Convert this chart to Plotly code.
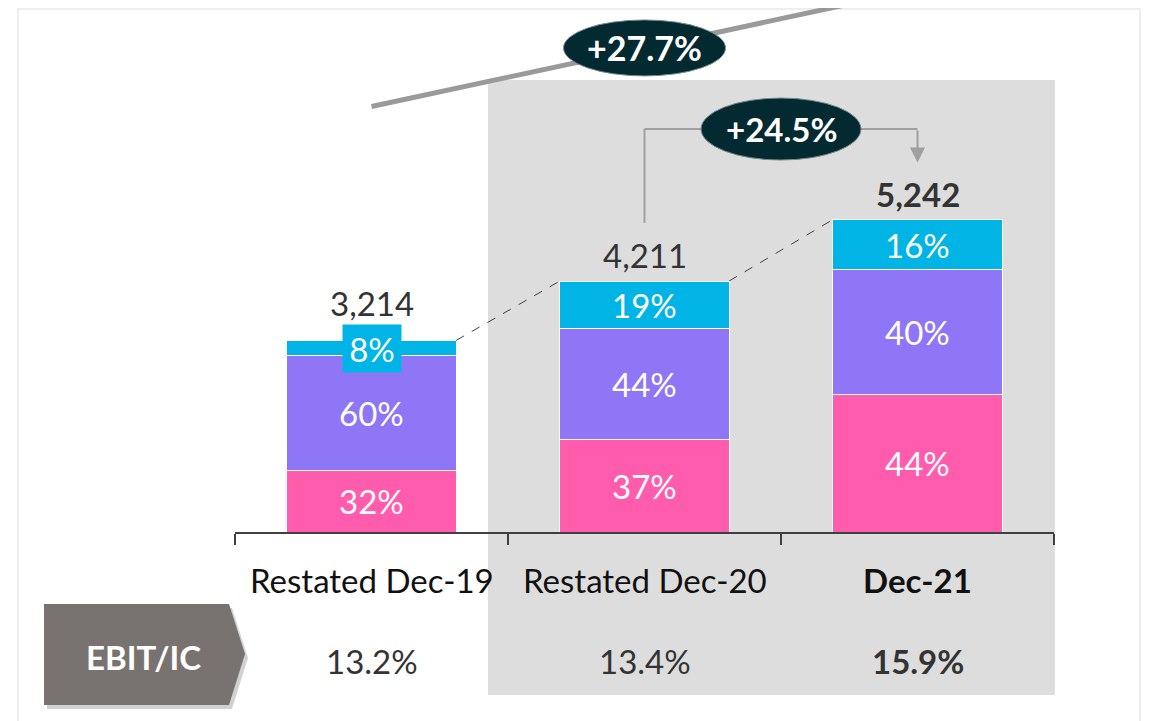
import plotly.graph_objects as go

# ---------------- data ----------------
categories = ["Restated Dec-19", "Restated Dec-20", "Dec-21"]
totals = [3214, 4211, 5242]
pct_pink = [32, 37, 44]
pct_purple = [60, 44, 40]
pct_cyan = [8, 19, 16]
ebit_ic = ["13.2%", "13.4%", "15.9%"]
cagr_label = "+27.7%"
yoy_label = "+24.5%"
row_label = "EBIT/IC"

# ---------------- style / geometry ----------------
OFF = 8                      # page body margin of the browser
W, H = 1155 - OFF, 721 - OFF
ML, MR, MT, MB = 235 - OFF, 101, 0, 189
PW, PH = W - ML - MR, H - MT - MB
YMAX = PH / 0.0596
FONT = "Lato, 'Open Sans', sans-serif"
PINK, PURPLE, CYAN = "#FF5CAD", "#8F76F6", "#00B4E6"
DARK = "#022A30"
GREYLINE = "#a0a0a0"
BAR_W = 0.62
FS = 33
NCAT = len(categories)


def px(p):  # screen pixel x -> paper x
    return (p - OFF - ML) / PW


def py(p):  # screen pixel y -> paper y
    return (H - MB - (p - OFF)) / PH


def dy(pixels):  # pixel height -> data units
    return pixels * YMAX / PH


def xd(i):  # category index -> paper x
    return (i + 0.5) / NCAT


def yd(v):  # data value -> paper y
    return v / YMAX


fig = go.Figure()

segments = [(pct_pink, PINK), (pct_purple, PURPLE), (pct_cyan, CYAN)]
for pcts, col in segments:
    vals = [t * p / 100 for t, p in zip(totals, pcts)]
    fig.add_trace(go.Bar(x=categories, y=vals, marker=dict(color=col, line=dict(color="white", width=1)),
                         width=BAR_W, hoverinfo="skip", showlegend=False))

annotations = []
shapes = []

# shaded highlight region (Dec-20 and Dec-21)
shapes.append(dict(type="rect", xref="paper", yref="paper", x0=px(488), x1=px(1055), y0=py(695), y1=py(80),
                   fillcolor="#DDDDDD", line=dict(width=0), layer="below"))
# outer frame
shapes.append(dict(type="rect", xref="paper", yref="paper", x0=px(18), x1=px(1140), y0=py(735), y1=py(9),
                   fillcolor="rgba(0,0,0,0)", line=dict(color="#EEEEEE", width=2), layer="below"))

# segment labels, totals, category labels, EBIT/IC values
for i, cat in enumerate(categories):
    base = 0
    for pcts, col in segments:
        v = totals[i] * pcts[i] / 100
        a = dict(x=cat, y=base + v / 2, xref="x", yref="y", text=f"{pcts[i]}%", showarrow=False,
                 font=dict(family=FONT, size=FS, color="white"), xanchor="center", yanchor="middle")
        if v < dy(30):
            a.update(bgcolor=col, width=56, height=45)
        annotations.append(a)
        base += v
    bold = i == NCAT - 1
    small_top = totals[i] * pct_cyan[i] / 100 < dy(30)
    annotations.append(dict(x=cat, y=totals[i], xref="x", yref="y",
                            text=f"<b>{totals[i]:,}</b>" if bold else f"{totals[i]:,}",
                            showarrow=False, xanchor="center", yanchor="middle",
                            yshift=37 if small_top else 26,
                            font=dict(family=FONT, size=FS, color="#333333")))
    annotations.append(dict(x=cat, y=py(580), xref="x", yref="paper",
                            text=f"<b>{cat}</b>" if bold else cat, showarrow=False,
                            xanchor="center", yanchor="middle",
                            font=dict(family=FONT, size=FS, color="#111111")))
    annotations.append(dict(x=cat, y=py(661), xref="x", yref="paper",
                            text=f"<b>{ebit_ic[i]}</b>" if bold else ebit_ic[i], showarrow=False,
                            xanchor="center", yanchor="middle",
                            font=dict(family=FONT, size=FS, color="#333333")))

# dashed connectors between bar tops
for i in range(NCAT - 1):
    shapes.append(dict(type="line", xref="x", yref="y", x0=i + BAR_W / 2, y0=totals[i],
                       x1=i + 1 - BAR_W / 2, y1=totals[i + 1],
                       line=dict(color="#404040", width=1, dash="dash")))

# CAGR line (Dec-19 -> running off the top), paper coords so it is not clipped
y_start = totals[0] + dy(234)
slope = dy(58.5)  # per category
shapes.append(dict(type="line", xref="paper", yref="paper", x0=xd(0), y0=yd(y_start),
                   x1=xd(2), y1=yd(y_start + 2 * slope), line=dict(color="#9A9A9A", width=5)))
cx, cy = 1, y_start + slope
shapes.append(dict(type="circle", xref="paper", yref="paper", x0=xd(cx) - 81 / PW, x1=xd(cx) + 81 / PW,
                   y0=yd(cy - dy(28)), y1=yd(cy + dy(28)), fillcolor=DARK, line=dict(color="#7a8a8c", width=1)))
annotations.append(dict(x=xd(cx), y=yd(cy), xref="paper", yref="paper", text=f"<b>{cagr_label}</b>",
                        showarrow=False, xanchor="center", yanchor="middle",
                        font=dict(family=FONT, size=FS + 1, color="white")))

# YoY connector Dec-20 -> Dec-21
y_top = totals[1] + dy(152)
shapes.append(dict(type="line", xref="x", yref="y", x0=1, x1=1, y0=totals[1] + dy(58), y1=y_top,
                   line=dict(color=GREYLINE, width=2)))
shapes.append(dict(type="line", xref="x", yref="y", x0=1, x1=2, y0=y_top, y1=y_top,
                   line=dict(color=GREYLINE, width=2)))
annotations.append(dict(x=2, y=totals[2] + dy(57), ax=2, ay=y_top, xref="x", yref="y", axref="x", ayref="y",
                        text="", showarrow=True, arrowhead=2, arrowsize=1.5, arrowwidth=2,
                        arrowcolor=GREYLINE))
shapes.append(dict(type="circle", xref="x", yref="y", x0=1.5 - 80 / 273, x1=1.5 + 80 / 273,
                   y0=y_top - dy(31), y1=y_top + dy(31), fillcolor=DARK, line=dict(color="#7a8a8c", width=1)))
annotations.append(dict(x=1.5, y=y_top, xref="x", yref="y", text=f"<b>{yoy_label}</b>", showarrow=False,
                        xanchor="center", yanchor="middle",
                        font=dict(family=FONT, size=FS, color="white")))


# EBIT/IC row tag (pentagon arrow with soft shadow)
def pent(dx=0, dyy=0):
    pts = [(44, 604), (229, 604), (245, 654), (229, 705), (44, 705)]
    return "M " + " L ".join(f"{px(x + dx):.4f},{py(y + dyy):.4f}" for x, y in pts) + " Z"


shapes.append(dict(type="path", xref="paper", yref="paper", path=pent(3, 4), fillcolor="rgba(0,0,0,0.18)",
                   line=dict(width=0)))
shapes.append(dict(type="path", xref="paper", yref="paper", path=pent(), fillcolor="#787371",
                   line=dict(width=0)))
annotations.append(dict(x=px(143), y=py(657), xref="paper", yref="paper", text=f"<b>{row_label}</b>",
                        showarrow=False, xanchor="center", yanchor="middle",
                        font=dict(family=FONT, size=FS, color="white")))

fig.update_layout(
    width=W, height=H, margin=dict(l=ML, r=MR, t=MT, b=MB),
    paper_bgcolor="white", plot_bgcolor="rgba(0,0,0,0)",
    barmode="stack", showlegend=False,
    font=dict(family=FONT, size=FS, color="#333333"),
    shapes=shapes, annotations=annotations,
    xaxis=dict(type="category", range=[-0.5, 2.5], showline=True, linecolor="#404040", linewidth=2,
               ticks="outside", tickson="boundaries", ticklen=11, tickwidth=2, tickcolor="#404040",
               showticklabels=False, showgrid=False, zeroline=False, fixedrange=True),
    yaxis=dict(range=[0, YMAX], visible=False, showgrid=False, zeroline=False, fixedrange=True),
)

fig.write_html("out.html")
